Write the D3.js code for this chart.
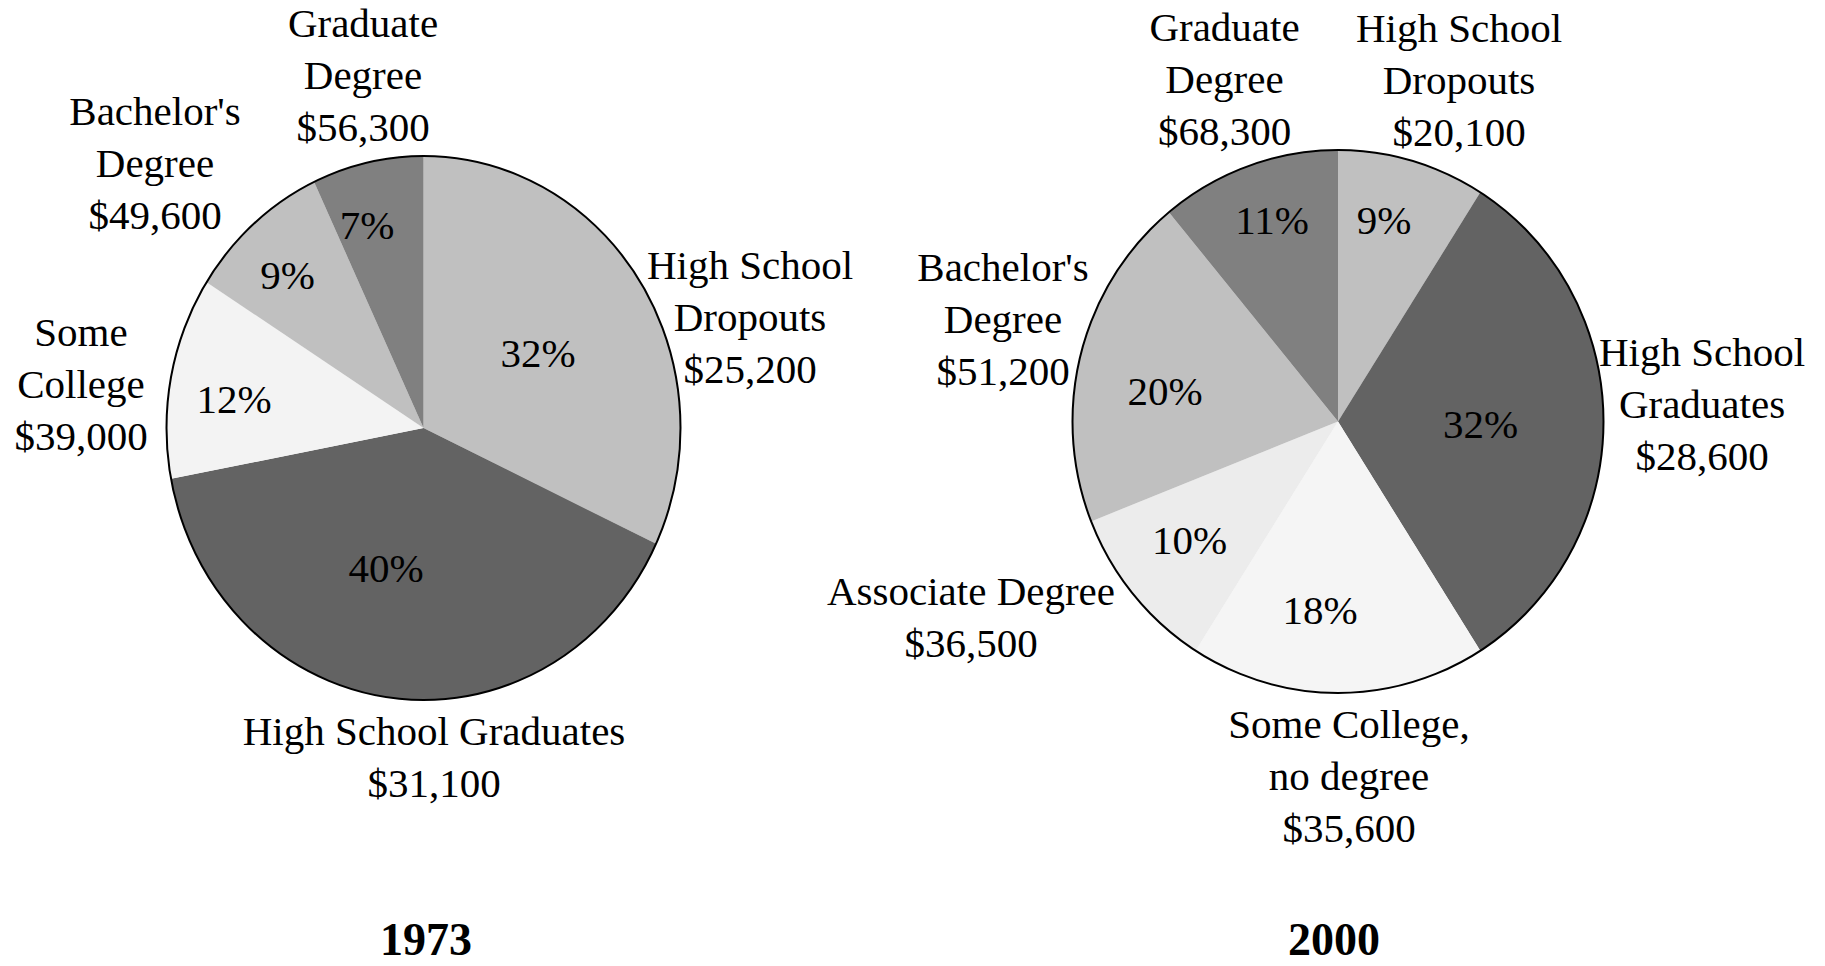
<!DOCTYPE html>
<html>
<head>
<meta charset="utf-8">
<script src="https://cdn.jsdelivr.net/npm/d3@7"></script>
<style>
  html, body { margin: 0; padding: 0; background: #ffffff; }
  svg { display: block; }
  text { font-family: "Liberation Serif", "Times New Roman", serif; fill: #000; }
</style>
</head>
<body>
<svg id="chart" width="1825" height="966"></svg>
<script>
// Workforce shares and median earnings by education level
const groups1973 = [
  ["High School", "Dropouts"],
  ["High School Graduates"],
  ["Some", "College"],
  ["Bachelor's", "Degree"],
  ["Graduate", "Degree"]
];
const shares1973 = [32, 40, 12, 9, 7];
const earnings1973 = [25200, 31100, 39000, 49600, 56300];

const groups2000 = [
  ["High School", "Dropouts"],
  ["High School", "Graduates"],
  ["Some College,", "no degree"],
  ["Associate Degree"],
  ["Bachelor's", "Degree"],
  ["Graduate", "Degree"]
];
const shares2000 = [9, 32, 18, 10, 20, 11];
const earnings2000 = [20100, 28600, 35600, 36500, 51200, 68300];

const years = ["1973", "2000"];

// Slice fills
const fills1973 = ["#c0c0c0", "#636363", "#f3f3f3", "#c0c0c0", "#808080"];
const fills2000 = ["#c0c0c0", "#636363", "#f5f5f5", "#ececec", "#c0c0c0", "#808080"];

// Layout: pie geometry and label anchors (x centre, first baseline)
const pies = [
  {
    groups: groups1973, shares: shares1973, earnings: earnings1973, fills: fills1973,
    cx: 423.5, cy: 428, rx: 257, ry: 272,
    labelPos: [[750, 279], [434, 745], [81, 346], [155, 125], [363, 37]],
    pctPos: [[538, 367], [386, 582], [234, 413], [287.5, 289], [367, 239]],
    titlePos: [426, 955]
  },
  {
    groups: groups2000, shares: shares2000, earnings: earnings2000, fills: fills2000,
    cx: 1338, cy: 421.5, rx: 265.5, ry: 271.5,
    labelPos: [[1459, 41.5], [1702, 365.5], [1349, 738], [971, 605], [1003, 280.5], [1224.5, 41]],
    pctPos: [[1384, 234], [1480.5, 437.5], [1320, 624], [1189.5, 554], [1165, 405], [1272, 234]],
    titlePos: [1334, 955]
  }
];

const lineGap = 52;
const money = d3.format("$,");
const svg = d3.select("#chart");

const pie = d3.pie().sort(null).value(d => d);
const arc = d3.arc().innerRadius(0).outerRadius(1);

pies.forEach((p, i) => {
  const arcs = pie(p.shares);

  // Slices on a unit circle, stretched to the pie's ellipse
  const g = svg.append("g")
    .attr("transform", `translate(${p.cx},${p.cy}) scale(${p.rx},${p.ry})`);
  g.selectAll("path.slice")
    .data(arcs)
    .join("path")
    .attr("class", "slice")
    .attr("d", arc)
    .attr("fill", (d, j) => p.fills[j]);

  // Outer rim
  svg.append("ellipse")
    .attr("cx", p.cx).attr("cy", p.cy)
    .attr("rx", p.rx).attr("ry", p.ry)
    .attr("fill", "none")
    .attr("stroke", "#000")
    .attr("stroke-width", 2);

  // Percentage inside each slice
  svg.selectAll(null)
    .data(arcs)
    .join("text")
    .attr("x", (d, j) => p.pctPos[j][0])
    .attr("y", (d, j) => p.pctPos[j][1])
    .attr("text-anchor", "middle")
    .attr("font-size", 41)
    .text(d => d.data + "%");

  // Category names with earnings beneath
  p.groups.forEach((lines, j) => {
    const [x, y] = p.labelPos[j];
    const t = svg.append("text")
      .attr("text-anchor", "middle")
      .attr("font-size", 41);
    lines.concat([money(p.earnings[j])]).forEach((s, k) => {
      t.append("tspan")
        .attr("x", x)
        .attr("y", y + k * lineGap)
        .text(s);
    });
  });

  // Year caption
  svg.append("text")
    .attr("x", p.titlePos[0])
    .attr("y", p.titlePos[1])
    .attr("text-anchor", "middle")
    .attr("font-size", 46)
    .attr("font-weight", "bold")
    .text(years[i]);
});
</script>
</body>
</html>
